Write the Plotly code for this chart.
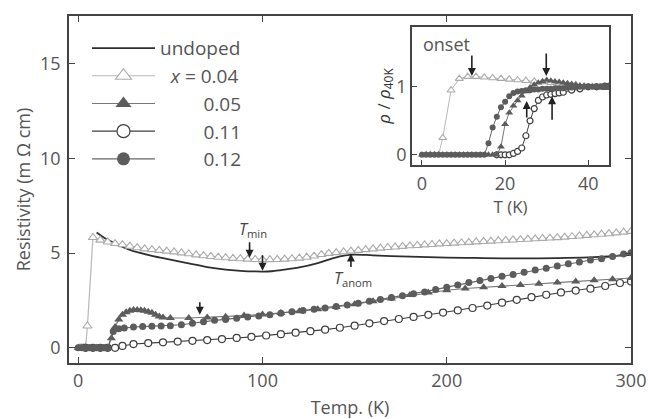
import plotly.graph_objects as go

# ---------------- main panel data ----------------
T_undoped = [10, 15, 20, 25, 30, 40, 50, 60, 70, 80, 90, 95, 100, 105, 110, 120, 130, 138, 145, 150,
             160, 175, 190, 200, 215, 230, 250, 265, 280, 290, 300]
R_undoped = [6.08, 5.75, 5.5, 5.28, 5.1, 4.85, 4.65, 4.45, 4.26, 4.13, 4.05, 4.03, 4.02, 4.04, 4.1, 4.24, 4.47, 4.72, 4.88, 4.92,
             4.88, 4.82, 4.78, 4.76, 4.74, 4.72, 4.72, 4.74, 4.78, 4.83, 4.9]

T_x004 = [1, 2, 3, 4, 5, 8, 12, 16, 20, 24, 28, 32, 36, 40, 44, 48, 52, 56, 60, 64, 68, 72, 76, 80, 84, 88, 92, 96,
          100, 104, 108, 112, 116, 120, 124, 128, 132, 136, 140, 144, 148, 152, 156, 160, 164, 168, 172, 176, 180,
          184, 188, 192, 196, 200, 204, 208, 212, 216, 220, 224, 228, 232, 236, 240, 244, 248, 252, 256, 260, 264,
          268, 272, 276, 280, 284, 288, 292, 296, 300]
R_x004 = [0.0, 0.0, 0.0, 0.02, 1.15, 5.82, 5.68, 5.58, 5.5, 5.44, 5.36, 5.28, 5.22, 5.18, 5.14, 5.1, 5.06, 5.01, 4.96, 4.9, 4.86, 4.82, 4.78, 4.75, 4.72, 4.7, 4.68, 4.66,
          4.65, 4.65, 4.66, 4.68, 4.7, 4.73, 4.78, 4.84, 4.92, 4.98, 5.02, 5.06, 5.1, 5.14, 5.18, 5.22, 5.26, 5.29, 5.32, 5.35, 5.38,
          5.4, 5.43, 5.45, 5.48, 5.5, 5.52, 5.54, 5.56, 5.59, 5.61, 5.63, 5.65, 5.67, 5.69, 5.71, 5.73, 5.75, 5.77, 5.79, 5.81, 5.84,
          5.87, 5.9, 5.93, 5.96, 5.99, 6.02, 6.06, 6.1, 6.14]

T_x005 = [0, 2, 4, 6, 8, 10, 12, 14, 16, 18, 20, 22, 24, 26, 28, 30, 32, 34, 36, 38, 40, 42, 44, 46, 50, 60, 70, 80, 90,
          100, 110, 120, 130, 140, 150, 160, 170, 180, 190, 200, 210, 220, 230, 240, 250, 260, 270, 280, 290, 300]
R_x005 = [0.0, 0.0, 0.0, 0.0, 0.0, 0.0, 0.0, 0.0, 0.0, 0.5, 1.1, 1.5, 1.75, 1.88, 1.95, 2.0, 2.0, 1.98, 1.95, 1.9, 1.85, 1.75, 1.65, 1.6, 1.57, 1.57, 1.6, 1.64, 1.7,
          1.76, 1.84, 1.93, 2.03, 2.15, 2.3, 2.45, 2.6, 2.78, 2.92, 3.04, 3.13, 3.2, 3.26, 3.32, 3.38, 3.44, 3.5, 3.56, 3.62, 3.68]

T_x011 = [4, 8, 12, 16, 20, 24, 30, 38, 46, 54, 62, 70, 78, 86, 94, 102, 110, 118, 126, 134, 142, 150, 158, 166, 174,
          182, 190, 198, 206, 214, 222, 230, 238, 246, 254, 262, 270, 278, 286, 294, 300]
R_x011 = [0.0, 0.0, 0.0, 0.0, 0.0, 0.1, 0.2, 0.25, 0.29, 0.33, 0.37, 0.41, 0.46, 0.52, 0.58, 0.65, 0.72, 0.8, 0.88, 0.96, 1.06, 1.17, 1.29, 1.41, 1.52,
          1.63, 1.74, 1.86, 1.98, 2.1, 2.23, 2.38, 2.53, 2.67, 2.8, 2.92, 3.02, 3.12, 3.26, 3.42, 3.5]

T_x012 = [0, 2, 4, 6, 8, 10, 12, 14, 16, 19, 22, 25, 30, 35, 40, 45, 50, 56, 62, 68, 74, 80, 86, 92, 98, 104, 110, 116,
          122, 128, 134, 140, 146, 152, 158, 164, 170, 176, 182, 188, 194, 200, 206, 212, 218, 224, 230, 236, 242,
          248, 254, 260, 266, 272, 278, 284, 290, 296, 300]
R_x012 = [0.0, 0.0, 0.0, 0.0, 0.0, 0.0, 0.0, 0.0, 0.0, 0.86, 1.0, 1.04, 1.1, 1.12, 1.14, 1.15, 1.17, 1.22, 1.3, 1.38, 1.45, 1.5, 1.56, 1.62, 1.68, 1.75, 1.82, 1.9,
          1.97, 2.04, 2.1, 2.18, 2.26, 2.35, 2.45, 2.55, 2.65, 2.75, 2.85, 2.95, 3.07, 3.2, 3.32, 3.45, 3.55, 3.66, 3.77, 3.87, 3.98,
          4.1, 4.2, 4.32, 4.43, 4.53, 4.63, 4.7, 4.82, 4.95, 5.02]

# ---------------- inset data (rho / rho_40K) ----------------
t_x004 = [1, 2, 3, 4, 5, 7, 9, 11, 13, 15, 17, 19, 21, 23, 25, 27, 29, 31, 33, 35, 37, 39, 41, 43, 45]
r_x004 = [0.0, 0.0, 0.0, 0.0, 0.25, 0.95, 1.12, 1.15, 1.15, 1.14, 1.13, 1.12, 1.11, 1.1, 1.09, 1.08, 1.07, 1.06, 1.05, 1.04, 1.03, 1.01, 1.0, 0.99, 0.99]

t_x005 = [0, 1, 2, 3, 4, 5, 6, 7, 8, 9, 10, 11, 12, 13, 14, 15, 16, 17, 18, 19, 20, 21, 22, 23, 24, 25, 26, 27,
          28, 29, 30, 31, 32, 33, 34, 35, 36, 37, 38, 39, 40, 41, 42, 43, 44, 45]
r_x005 = [0.0, 0.0, 0.0, 0.0, 0.0, 0.0, 0.0, 0.0, 0.0, 0.0, 0.0, 0.0, 0.0, 0.0, 0.0, 0.0, 0.0, 0.0, 0.0, 0.12, 0.45, 0.62, 0.72, 0.8, 0.87, 0.93, 0.99, 1.03,
          1.06, 1.08, 1.1, 1.09, 1.08, 1.07, 1.06, 1.05, 1.04, 1.03, 1.02, 1.01, 1.0, 1.0, 0.99, 0.99, 0.98, 0.98]

t_x011 = [18, 19, 20, 21, 22, 23, 24, 25, 26, 27, 28, 29, 30, 31, 32, 33, 34, 36, 38, 40, 42, 44]
r_x011 = [0.0, 0.0, 0.0, 0.0, 0.02, 0.05, 0.1, 0.28, 0.5, 0.68, 0.8, 0.85, 0.88, 0.89, 0.9, 0.91, 0.92, 0.95, 0.97, 1.0, 1.0, 1.01]

t_x012 = [0, 1, 2, 3, 4, 5, 6, 7, 8, 9, 10, 11, 12, 13, 14, 15, 16, 17, 18, 19, 20, 21, 22, 23, 24, 25, 26, 27,
          28, 29, 30, 31, 32, 33, 34, 35, 36, 37, 38, 39, 40, 41, 42, 43, 44, 45]
r_x012 = [0.0, 0.0, 0.0, 0.0, 0.0, 0.0, 0.0, 0.0, 0.0, 0.0, 0.0, 0.0, 0.0, 0.0, 0.0, 0.0, 0.17, 0.4, 0.56, 0.7, 0.78, 0.86, 0.91, 0.93, 0.94, 0.95, 0.95, 0.96,
          0.96, 0.97, 0.97, 0.97, 0.98, 0.98, 0.98, 0.99, 0.99, 0.99, 1.0, 1.0, 1.0, 1.0, 1.01, 1.01, 1.01, 1.02]

# tick labels
x_ticks = [0, 100, 200, 300]
y_ticks = [0, 5, 10, 15]
inset_x_ticks = [0, 20, 40]
inset_y_ticks = [0, 1]

# legend names (right-aligned with figure spaces)
names = ["undoped", "\u2007<i>x</i> = 0.04", "\u2007\u2007\u2007\u20070.05", "\u2007\u2007\u2007\u20070.11", "\u2007\u2007\u2007\u20070.12"]

FONT = "Open Sans"
AX = "#444444"
TXT = "#555555"
C_UND = "#2e2e2e"
C_004 = "#aaaaaa"
L_004 = "#b8b8b8"
C_005 = "#5c5c5c"
L_005 = "#777777"
C_011 = "#3e3e3e"
C_012 = "#5c5c5c"
L_012 = "#666666"

styles = [
    dict(mode="lines", line=dict(color=C_UND, width=1.8)),
    dict(mode="lines+markers", line=dict(color=L_004, width=1.2),
         marker=dict(symbol="triangle-up", color="white", line=dict(color=C_004, width=1.1))),
    dict(mode="lines+markers", line=dict(color=L_005, width=1.1),
         marker=dict(symbol="triangle-up", color=C_005, line=dict(width=0))),
    dict(mode="lines+markers", line=dict(color=C_011, width=1.1),
         marker=dict(symbol="circle", color="white", line=dict(color=C_011, width=1.2))),
    dict(mode="lines+markers", line=dict(color=L_012, width=1.1),
         marker=dict(symbol="circle", color=C_012, line=dict(width=0))),
]
main_sizes = [0, 8, 8, 7, 7]
inset_sizes = [0, 7, 7, 6, 6]
legend_sizes = [0, 14, 14, 13, 13]


def style(i, size):
    s = {k: (dict(v) if isinstance(v, dict) else v) for k, v in styles[i].items()}
    if "marker" in s:
        s["marker"] = dict(s["marker"], size=size)
    return s


fig = go.Figure()

main_series = [(0, T_undoped, R_undoped), (1, T_x004, R_x004), (3, T_x011, R_x011),
               (2, T_x005, R_x005), (4, T_x012, R_x012)]
for i, xs, ys in main_series:
    s = style(i, main_sizes[i])
    if i == 0:
        s["line"] = dict(s["line"], shape="spline")
    fig.add_trace(go.Scatter(x=xs, y=ys, showlegend=False, xaxis="x", yaxis="y", **s))

inset_series = [(1, t_x004, r_x004), (3, t_x011, r_x011), (2, t_x005, r_x005), (4, t_x012, r_x012)]
for i, xs, ys in inset_series:
    s = style(i, inset_sizes[i])
    s["line"] = dict(s["line"], width=1.0)
    fig.add_trace(go.Scatter(x=xs, y=ys, showlegend=False, xaxis="x2", yaxis="y2", **s))

# legend-only entries (no data), so the key symbols can be larger than plotted markers
for i in range(5):
    fig.add_trace(go.Scatter(x=[None], y=[None], name=names[i], showlegend=True,
                             xaxis="x", yaxis="y", **style(i, legend_sizes[i])))

axis_common = dict(showline=True, linecolor=AX, linewidth=1.5, ticks="inside", tickcolor=AX,
                   tickwidth=1.3, showgrid=False, zeroline=False, automargin=False,
                   tickfont=dict(family=FONT, size=18, color=TXT))

fig.update_layout(
    width=648, height=419,
    margin=dict(l=69, r=17, t=16, b=56, autoexpand=False),
    paper_bgcolor="white", plot_bgcolor="white",
    font=dict(family=FONT, size=18, color=TXT),
    showlegend=True,
    legend=dict(x=0.032, y=0.962, xanchor="left", yanchor="top", bgcolor="rgba(0,0,0,0)",
                borderwidth=0, itemsizing="trace", font=dict(family=FONT, size=19, color=TXT),
                itemwidth=63, tracegroupgap=0),
    xaxis=dict(**axis_common, range=[-5, 300], tickvals=x_ticks, ticklen=6, mirror="ticks",
               ticklabelstandoff=1,
               title=dict(text="Temp. (K)", font=dict(family=FONT, size=18, color=TXT), standoff=13)),
    yaxis=dict(**axis_common, range=[-0.8, 17.5], tickvals=y_ticks, ticklen=6, mirror="ticks",
               ticklabelstandoff=3,
               title=dict(text="Resistivity (m \u03a9 cm)", font=dict(family=FONT, size=18, color=TXT), standoff=5)),
    xaxis2=dict(**axis_common, domain=[0.6103, 0.9609], anchor="y2", range=[-2.4, 45],
                tickvals=inset_x_ticks, ticklen=5, mirror=True, ticklabelstandoff=2,
                title=dict(text="T (K)", font=dict(family=FONT, size=17, color=TXT), standoff=0)),
    yaxis2=dict(**axis_common, domain=[0.5706, 0.9683], anchor="x2", range=[-0.15, 1.88],
                tickvals=inset_y_ticks, ticklen=5, mirror=True,
                title=dict(text="<i>\u03c1</i> / <i>\u03c1</i><sub>40K</sub>", font=dict(family=FONT, size=17, color="#333333"), standoff=0)),
)

ARW = "#222222"
arrows = [
    dict(x=93, y=4.75, xref="x", yref="y", ax=0, ay=-17),
    dict(x=100, y=4.06, xref="x", yref="y", ax=0, ay=-17),
    dict(x=66, y=1.75, xref="x", yref="y", ax=0, ay=-14),
    dict(x=148, y=4.97, xref="x", yref="y", ax=0, ay=15),
    dict(x=12, y=1.16, xref="x2", yref="y2", ax=0, ay=-22),
    dict(x=29.9, y=1.16, xref="x2", yref="y2", ax=0, ay=-24),
    dict(x=25.2, y=0.79, xref="x2", yref="y2", ax=0, ay=18),
    dict(x=31.3, y=0.86, xref="x2", yref="y2", ax=0, ay=25),
]
for a in arrows:
    fig.add_annotation(text="", showarrow=True, arrowhead=2, arrowsize=1, arrowwidth=1.6,
                       arrowcolor=ARW, **a)

fig.add_annotation(x=94.7, y=6.25, xref="x", yref="y", showarrow=False,
                   text="<i>T</i><sub>min</sub>", font=dict(family=FONT, size=16, color="#444444"))
fig.add_annotation(x=149, y=3.65, xref="x", yref="y", showarrow=False,
                   text="<i>T</i><sub>anom</sub>", font=dict(family=FONT, size=16, color="#444444"))
fig.add_annotation(x=5.8, y=1.63, xref="x2", yref="y2", showarrow=False,
                   text="onset", font=dict(family=FONT, size=18, color=TXT))

fig.write_html("out.html", config={"displayModeBar": False},
               post_script="document.body.style.margin='0px';")
